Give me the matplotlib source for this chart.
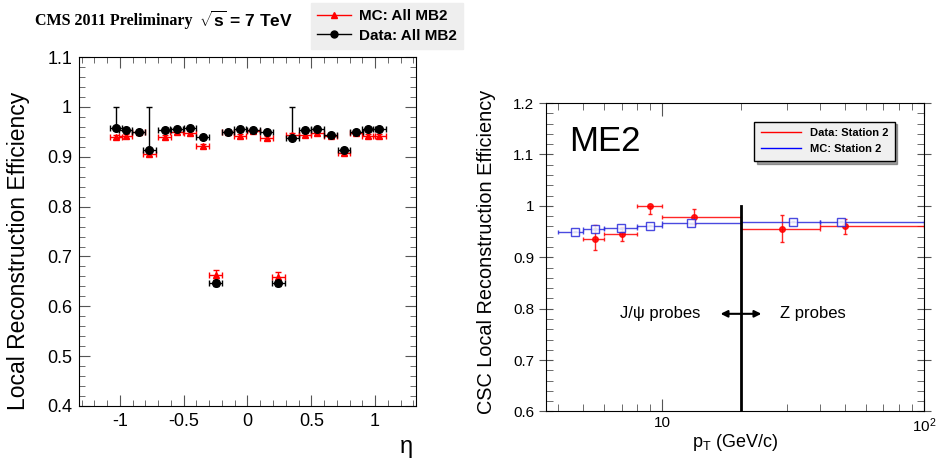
import matplotlib
matplotlib.use("Agg")
import matplotlib.pyplot as plt
from matplotlib.lines import Line2D
from matplotlib.ticker import MultipleLocator, FixedLocator, FixedFormatter, LogLocator, NullFormatter
import numpy as np

plt.rcParams['font.family'] = ['Liberation Sans', 'DejaVu Sans']
plt.rcParams['mathtext.fontset'] = 'custom'
plt.rcParams['mathtext.rm'] = 'Liberation Sans'
plt.rcParams['mathtext.it'] = 'Liberation Sans:italic'
plt.rcParams['mathtext.bf'] = 'Liberation Sans:bold'

# left panel: MB2 efficiency vs eta
eta = [-1.03, -0.955, -0.853, -0.77, -0.647, -0.555, -0.451, -0.351, -0.249, -0.153, -0.058,
       0.045, 0.15, 0.242, 0.351, 0.451, 0.547, 0.652, 0.757, 0.853, 0.947, 1.033]
mb2_data = [0.957, 0.954, 0.950, 0.914, 0.954, 0.956, 0.957, 0.940, 0.646, 0.949, 0.956,
            0.954, 0.949, 0.646, 0.938, 0.954, 0.956, 0.944, 0.914, 0.949, 0.956, 0.956]
mb2_data_up = [0.043, 0.004, 0.004, 0.086, 0.004, 0.004, 0.004, 0.004, 0.006, 0.004, 0.004,
               0.004, 0.004, 0.006, 0.062, 0.004, 0.004, 0.004, 0.004, 0.004, 0.004, 0.004]
mb2_data_lo = [0.004, 0.004, 0.004, 0.004, 0.004, 0.004, 0.004, 0.004, 0.006, 0.004, 0.004,
               0.004, 0.004, 0.006, 0.004, 0.004, 0.004, 0.004, 0.004, 0.004, 0.004, 0.004]
mb2_mc = [0.940, 0.941, 0.949, 0.905, 0.940, 0.949, 0.948, 0.922, 0.663, 0.949, 0.942,
          0.952, 0.937, 0.659, 0.944, 0.944, 0.947, 0.942, 0.908, 0.948, 0.942, 0.942]
mb2_mc_err = [0.004, 0.004, 0.004, 0.004, 0.004, 0.004, 0.004, 0.004, 0.010, 0.004, 0.004,
              0.004, 0.004, 0.010, 0.004, 0.004, 0.004, 0.004, 0.004, 0.004, 0.004, 0.004]
eta_halfwidth = 0.05

# right panel: ME2 efficiency vs pT
mc_pt = [4.64, 5.51, 6.98, 8.95, 12.9, 31.6, 48.0]
mc_lo = [4, 5, 6, 8, 10, 20, 40]
mc_hi = [5, 6, 8, 10, 20, 40, 100]
mc_eff = [0.950, 0.955, 0.956, 0.961, 0.966, 0.969, 0.969]
dt_pt = [5.51, 7.0, 8.97, 13.2, 28.7, 50.1]
dt_lo = [5, 6, 8, 10, 20, 40]
dt_hi = [6, 8, 10, 20, 40, 100]
dt_eff = [0.936, 0.945, 1.000, 0.978, 0.955, 0.960]
dt_up = [0.026, 0.013, 0.0, 0.015, 0.027, 0.014]
dt_down = [0.022, 0.013, 0.016, 0.013, 0.026, 0.014]

fig = plt.figure(figsize=(9.4, 4.59), dpi=100)

# ---------------- left ----------------
ax1 = fig.add_axes([0.084, 0.1155, 0.3585, 0.760])
ax1.errorbar(eta, mb2_mc, xerr=eta_halfwidth, yerr=mb2_mc_err, fmt='^', color='red',
             ms=5, elinewidth=1, capsize=2)
ax1.errorbar(eta, mb2_data, xerr=eta_halfwidth, yerr=[mb2_data_lo, mb2_data_up], fmt='o',
             color='black', ms=5.5, elinewidth=1, capsize=2)
ax1.set_xlim(-1.32, 1.32)
ax1.set_ylim(0.4, 1.1)
ax1.xaxis.set_major_locator(FixedLocator([-1, -0.5, 0, 0.5, 1]))
ax1.xaxis.set_major_formatter(FixedFormatter(['-1', '-0.5', '0', '0.5', '1']))
ax1.xaxis.set_minor_locator(MultipleLocator(0.1))
ax1.yaxis.set_major_locator(FixedLocator([0.4, 0.5, 0.6, 0.7, 0.8, 0.9, 1.0, 1.1]))
ax1.yaxis.set_major_formatter(FixedFormatter(['0.4', '0.5', '0.6', '0.7', '0.8', '0.9', '1', '1.1']))
ax1.yaxis.set_minor_locator(MultipleLocator(0.02))
ax1.tick_params(which='both', direction='in', top=True, right=True, labelsize=13, color='#555555')
ax1.tick_params(which='major', length=8, pad=5)
ax1.tick_params(which='minor', length=4)
ax1.set_ylabel('Local Reconstruction Efficiency', fontsize=16.5)
ax1.yaxis.set_label_coords(-0.145, 0.445)
fig.text(0.432, 0.012, 'η', fontsize=17, ha='center')

fig.text(0.037, 0.955, 'CMS 2011 Preliminary', family='Liberation Serif', weight='bold',
         fontsize=11.5, va='center')
fig.text(0.212, 0.957, r'$\mathbf{\sqrt{s}}$ = 7 TeV', weight='bold', fontsize=12.5, va='center')

h_mc = Line2D([], [], color='red', marker='^', ms=5, lw=1)
h_dt = Line2D([], [], color='black', marker='o', ms=5, lw=1)
leg1 = fig.legend([h_mc, h_dt], ['MC: All MB2', 'Data: All MB2'], loc='upper left',
                  bbox_to_anchor=(0.328, 1.0), frameon=True, fancybox=False,
                  facecolor='#eeeeee', edgecolor='#eeeeee', framealpha=1,
                  prop={'weight': 'bold', 'size': 11}, handlelength=2.2,
                  borderaxespad=0.2, labelspacing=0.35, handletextpad=0.5)

# ---------------- right ----------------
ax2 = fig.add_axes([0.581, 0.1035, 0.402, 0.672])
ax2.set_xscale('log')
mc_xerr = [np.subtract(mc_pt, mc_lo), np.subtract(mc_hi, mc_pt)]
dt_xerr = [np.subtract(dt_pt, dt_lo), np.subtract(dt_hi, dt_pt)]
ax2.errorbar(dt_pt, dt_eff, xerr=dt_xerr, yerr=[dt_down, dt_up], fmt='o', color='red',
             ms=4, elinewidth=1, capsize=1.5, alpha=0.85)
ax2.errorbar(mc_pt, mc_eff, xerr=mc_xerr, yerr=0.001, fmt='s', color='#2a2adb',
             mfc='white', ms=6, mew=1, elinewidth=1, capsize=1.5, alpha=0.85)
ax2.plot([20, 20], [0.6, 1.0], color='black', lw=2)
ax2.set_xlim(3.6, 100)
ax2.set_ylim(0.6, 1.2)
ax2.xaxis.set_major_locator(FixedLocator([10, 100]))
ax2.xaxis.set_major_formatter(FixedFormatter(['10', r'$10^{2}$']))
ax2.xaxis.set_minor_locator(LogLocator(base=10, subs=np.arange(2, 10)))
ax2.xaxis.set_minor_formatter(NullFormatter())
ax2.yaxis.set_major_locator(FixedLocator([0.6, 0.7, 0.8, 0.9, 1.0, 1.1, 1.2]))
ax2.yaxis.set_major_formatter(FixedFormatter(['0.6', '0.7', '0.8', '0.9', '1', '1.1', '1.2']))
ax2.yaxis.set_minor_locator(MultipleLocator(0.02))
ax2.tick_params(which='both', direction='in', top=True, right=True, labelsize=11, color='#555555')
ax2.tick_params(axis='y', which='major', direction='inout', length=10)
ax2.tick_params(axis='x', which='major', length=9)
ax2.tick_params(which='minor', length=5)
ax2.set_ylabel('CSC Local Reconstruction Efficiency', fontsize=14.3)
ax2.yaxis.set_label_coords(-0.132, 0.517)
ax2.set_xlabel(r'p$_\mathrm{T}$ (GeV/c)', fontsize=13, labelpad=-2)
ax2.text(0.06, 0.845, 'ME2', transform=ax2.transAxes, fontsize=25)
ax2.text(14.0, 0.79, 'J/ψ probes', fontsize=12, ha='right', va='center')
ax2.text(28.2, 0.79, 'Z probes', fontsize=12, ha='left', va='center')
ax2.annotate('', xy=(16.3, 0.79), xytext=(24.5, 0.79),
             arrowprops=dict(arrowstyle='<|-|>', color='black', lw=1.5, mutation_scale=10))
h_r = Line2D([], [], color='red', lw=1)
h_b = Line2D([], [], color='blue', lw=1)
ax2.legend([h_r, h_b], ['Data: Station 2', 'MC: Station 2'], loc='upper left',
           bbox_to_anchor=(0.55, 0.94), frameon=True, fancybox=False, shadow=True,
           facecolor='#f0f0f0', edgecolor='black', framealpha=1,
           prop={'weight': 'bold', 'size': 8}, handlelength=3.6, borderaxespad=0,
           labelspacing=0.55, borderpad=0.6, handletextpad=0.8)

fig.savefig('out.png', dpi=100)
